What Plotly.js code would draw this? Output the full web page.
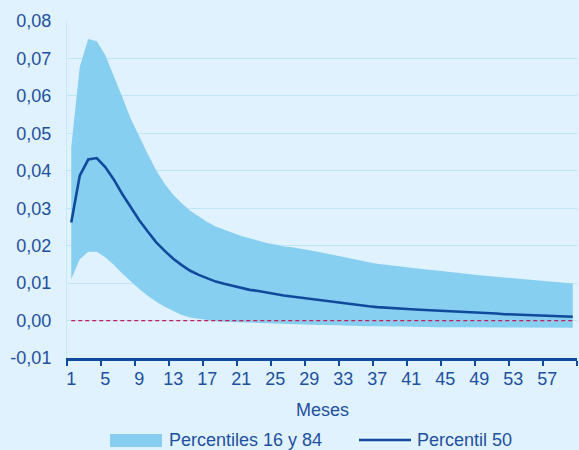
<!DOCTYPE html>
<html>
<head>
<meta charset="utf-8">
<script src="https://cdn.plot.ly/plotly-3.0.1.min.js"></script>
<style>
  html, body { margin: 0; padding: 0; background: #e0f2fd; }
  #chart { width: 579px; height: 450px; }
</style>
</head>
<body>
<div id="chart"></div>
<script>
// Horizon in months
const meses = Array.from({length: 60}, (_, i) => i + 1);

// 16th percentile of the impulse response
const p16 = [
  0.0111, 0.0164, 0.0184, 0.0184, 0.0169, 0.0149, 0.0126, 0.0104, 0.0084, 0.0066,
  0.0050, 0.0037, 0.0025, 0.0015, 0.0008, 0.0004, 0.0001, -0.0002, -0.0003, -0.0004,
  -0.0005, -0.0006, -0.0007, -0.0008, -0.0009, -0.0009, -0.0010, -0.0011, -0.0011, -0.0012,
  -0.0012, -0.0013, -0.0013, -0.0014, -0.0014, -0.0015, -0.0015, -0.0016, -0.0016, -0.0016,
  -0.0017, -0.0017, -0.0017, -0.0018, -0.0018, -0.0018, -0.0018, -0.0019, -0.0019, -0.0019,
  -0.0019, -0.0019, -0.0019, -0.0019, -0.0019, -0.0019, -0.0019, -0.0019, -0.0019, -0.0019
];

// 84th percentile
const p84 = [
  0.0463, 0.0677, 0.0752, 0.0746, 0.0709, 0.0655, 0.0597, 0.0539, 0.0490, 0.0445,
  0.0401, 0.0365, 0.0336, 0.0313, 0.0293, 0.0277, 0.0263, 0.0251, 0.0242, 0.0233,
  0.0226, 0.0220, 0.0213, 0.0207, 0.0203, 0.0198, 0.0196, 0.0193, 0.0188, 0.0184,
  0.0179, 0.0175, 0.0169, 0.0164, 0.0160, 0.0156, 0.0152, 0.0149, 0.0146, 0.0143,
  0.0140, 0.0138, 0.0136, 0.0134, 0.0131, 0.0129, 0.0126, 0.0123, 0.0121, 0.0119,
  0.0117, 0.0114, 0.0112, 0.0110, 0.0108, 0.0106, 0.0104, 0.0103, 0.0101, 0.0099
];

// Median (50th percentile)
const p50 = [
  0.0262, 0.0387, 0.0430, 0.0434, 0.0410, 0.0377, 0.0338, 0.0303, 0.0268, 0.0238,
  0.0209, 0.0186, 0.0165, 0.0148, 0.0133, 0.0122, 0.0112, 0.0104, 0.0098, 0.0092,
  0.0087, 0.0082, 0.0079, 0.0074, 0.0071, 0.0067, 0.0064, 0.0061, 0.0057, 0.0054,
  0.0051, 0.0048, 0.0046, 0.0043, 0.0040, 0.0038, 0.0036, 0.0034, 0.0032, 0.0031,
  0.0030, 0.0029, 0.0028, 0.0027, 0.0026, 0.0025, 0.0023, 0.0022, 0.0021, 0.0020,
  0.0019, 0.0017, 0.0016, 0.0015, 0.0015, 0.0014, 0.0013, 0.0012, 0.0011, 0.0010
];

// Reference line at zero
const cero = meses.map(() => 0);

// Axis ticks and labels
const xTickVals = [1, 5, 9, 13, 17, 21, 25, 29, 33, 37, 41, 45, 49, 53, 57];
const xTickText = xTickVals.map(String);
const xBoundaryTicks = Array.from({length: 16}, (_, i) => 0.5 + 4 * i);
const yTickVals = [-0.01, 0, 0.01, 0.02, 0.03, 0.04, 0.05, 0.06, 0.07, 0.08];
const yTickText = ['-0,01', '0,00', '0,01', '0,02', '0,03', '0,04', '0,05', '0,06', '0,07', '0,08'];

const legendBand = 'Percentiles 16 y 84';
const legendLine = 'Percentil 50';
const xTitle = 'Meses';

const BG = '#e0f2fd';
const BAND = '#87cff0';
const DARK = '#0f4a9c';
const TEXT = '#1e50a0';
const GRID = '#bfe5f8';
const FONT = 'Liberation Sans, Arial, sans-serif';

const W = 579, H = 450;
const M = {l: 67, r: 2, t: 21, b: 92};
const plotW = W - M.l - M.r, plotH = H - M.t - M.b;
const px2x = px => (px - M.l) / plotW;
const py2y = py => (H - M.b - py) / plotH;

const traces = [
  {x: meses, y: p16, type: 'scatter', mode: 'lines', line: {width: 0, color: BAND},
   hoverinfo: 'skip', showlegend: false},
  {x: meses, y: p84, type: 'scatter', mode: 'lines', line: {width: 0, color: BAND},
   fill: 'tonexty', fillcolor: BAND, name: legendBand, showlegend: false},
  {x: meses, y: cero, type: 'scatter', mode: 'lines', xaxis: 'x2',
   line: {color: '#c41e5a', width: 1.2, dash: '4px,3px'}, showlegend: false, hoverinfo: 'skip'},
  {x: meses, y: p50, type: 'scatter', mode: 'lines',
   line: {color: DARK, width: 2.6}, name: legendLine, showlegend: false}
];

// Legend keys (filled box and line) plus their labels
const legY = py2y(440);
const shapes = [
  {type: 'rect', xref: 'paper', yref: 'paper',
   x0: px2x(110), x1: px2x(162), y0: py2y(434), y1: py2y(447),
   fillcolor: BAND, line: {width: 0}},
  {type: 'line', xref: 'paper', yref: 'paper',
   x0: px2x(359), x1: px2x(411), y0: legY, y1: legY,
   line: {color: DARK, width: 2.6}}
];
const annotations = [
  {xref: 'paper', yref: 'paper', x: px2x(167), y: legY, xanchor: 'left', yanchor: 'middle',
   text: legendBand, showarrow: false, font: {family: FONT, size: 18, color: TEXT}},
  {xref: 'paper', yref: 'paper', x: px2x(415), y: legY, xanchor: 'left', yanchor: 'middle',
   text: legendLine, showarrow: false, font: {family: FONT, size: 18, color: TEXT}},
  {xref: 'paper', yref: 'paper', x: 0.5, y: py2y(410), xanchor: 'center', yanchor: 'middle',
   text: xTitle, showarrow: false, font: {family: FONT, size: 18, color: TEXT}}
];

const layout = {
  width: W, height: H,
  margin: M,
  paper_bgcolor: BG, plot_bgcolor: BG,
  font: {family: FONT, size: 18, color: TEXT},
  showlegend: false,
  // main x axis: tick marks on the month-group boundaries
  xaxis: {
    range: [0.5, 60.5], tickmode: 'array', tickvals: xBoundaryTicks,
    showticklabels: false,
    ticks: 'outside', ticklen: 5, tickwidth: 2, tickcolor: DARK,
    showgrid: false, zeroline: false,
    showline: true, linecolor: DARK, linewidth: 2.5
  },
  // overlaid x axis: month labels centred on their category
  xaxis2: {
    overlaying: 'x', anchor: 'y', side: 'bottom', range: [0.5, 60.5],
    tickmode: 'array', tickvals: xTickVals, ticktext: xTickText,
    ticks: '', showgrid: false, zeroline: false, showline: false,
    ticklabelstandoff: 8, tickfont: {family: FONT, size: 18, color: TEXT}
  },
  yaxis: {
    range: [-0.01, 0.08], tickmode: 'array', tickvals: yTickVals, ticktext: yTickText,
    ticks: '', showgrid: true, gridcolor: GRID, gridwidth: 1,
    zeroline: false, showline: true, linecolor: '#c6e8f9', linewidth: 1,
    ticklabelstandoff: 11, tickfont: {family: FONT, size: 18, color: TEXT}
  },
  shapes: shapes,
  annotations: annotations
};

Plotly.newPlot('chart', traces, layout, {displayModeBar: false, staticPlot: true});
</script>
</body>
</html>
